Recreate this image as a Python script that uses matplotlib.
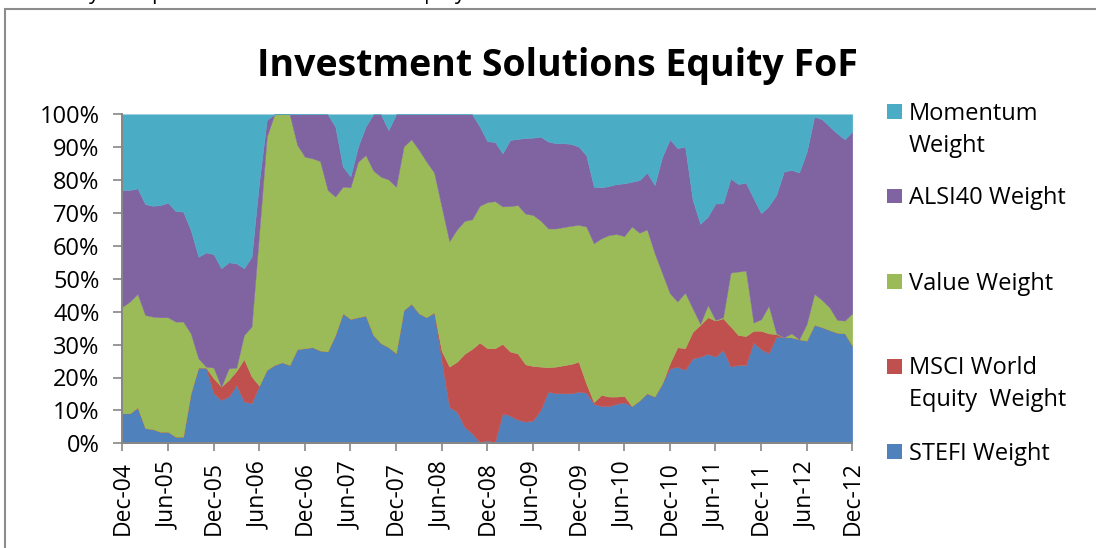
import numpy as np
import matplotlib
matplotlib.use("Agg")
import matplotlib.pyplot as plt
from matplotlib.patches import Rectangle

# ---------------- data (monthly, Dec-04 .. Dec-12), % weights ----------------
stefi = [9.1, 9.1, 10.9, 4.6, 4.3, 3.5, 3.5, 2.0, 2.0, 15.2, 23.0, 23.0, 15.2, 13.2, 14.2, 17.7,
         12.7, 12.2, 17.5, 22.3, 23.8, 24.6, 23.8, 28.6, 28.9, 29.2, 28.2, 27.9, 32.9, 39.5, 37.8,
         38.3, 38.8, 32.9, 30.4, 29.2, 27.4, 40.5, 42.4, 39.5, 38.3, 39.8, 25.0, 11.0, 9.6, 5.0,
         3.0, 0.3, 0.9, 0.3, 9.1, 8.4, 7.2, 6.6, 6.9, 10.1, 15.7, 15.2, 15.2, 15.2, 15.7, 15.4,
         12.0, 11.3, 11.3, 12.0, 12.4, 11.3, 13.0, 15.2, 14.2, 18.2, 22.7, 23.3, 22.3, 25.8, 26.3,
         27.2, 26.3, 28.4, 23.3, 23.8, 23.8, 30.6, 28.6, 27.4, 32.4, 32.2, 32.2, 31.6, 31.2, 36.0,
         35.3, 34.4, 33.6, 33.4, 29.6]
msci = [0, 0, 0, 0, 0, 0, 0, 0, 0, 0, 0, 0, 4.6, 4.0, 5.1, 4.3,
        12.9, 8.1, 0, 0, 0, 0, 0, 0, 0, 0, 0, 0, 0, 0, 0,
        0, 0, 0, 0, 0, 0, 0, 0, 0, 0, 0, 3.0, 12.3, 15.2, 22.2,
        25.7, 30.3, 28.0, 28.6, 21.1, 19.5, 20.1, 17.4, 16.6, 13.2, 7.4, 8.1, 8.5, 8.9, 9.1, 2.8,
        0.5, 3.4, 2.9, 2.2, 2.0, 0, 0, 0, 0, 0, 1.6, 5.9, 6.6, 8.1, 9.7,
        11.1, 11.0, 9.6, 12.2, 9.1, 8.8, 3.6, 5.6, 6.0, 0.8, 0, 0, 0, 0, 0,
        0, 0, 0, 0, 0]
value = [32.4, 34.0, 34.5, 34.4, 34.2, 34.8, 34.8, 35.0, 35.0, 18.2, 2.8, 0.3, 3.2, 0.0, 3.5, 1.0,
         7.3, 15.2, 46.5, 70.9, 76.2, 75.4, 76.2, 62.1, 58.2, 57.4, 57.6, 49.1, 42.1, 38.5, 40.0,
         47.3, 48.8, 50.0, 50.6, 51.0, 50.6, 49.7, 50.0, 49.7, 47.3, 42.5, 43.8, 38.1, 40.2, 40.4,
         39.4, 41.6, 44.4, 44.7, 41.8, 44.2, 45.1, 45.8, 45.9, 44.4, 42.2, 42.0, 42.0, 42.0, 41.6, 47.7,
         48.3, 47.6, 49.1, 49.4, 48.6, 54.6, 51.0, 49.8, 43.6, 33.5, 21.3, 13.9, 16.9, 7.1, 0.3,
         3.7, 0.2, 0.3, 16.4, 19.3, 19.9, 2.5, 3.5, 8.4, 0.2, 0.0, 1.2, 0.0, 5.1, 9.4,
         8.3, 6.9, 3.9, 3.9, 9.9]
alsi40 = [35.5, 33.9, 32.1, 33.7, 33.7, 34.1, 34.8, 33.6, 33.4, 31.4, 30.9, 34.7, 34.5, 36.0, 32.2, 31.7,
          20.3, 21.2, 15.6, 5.1, 0, 0, 0, 9.3, 12.9, 13.4, 14.2, 23.0, 21.3, 6.1, 3.3,
          4.6, 8.7, 17.1, 19.0, 15.0, 22.0, 9.8, 7.6, 10.8, 14.4, 17.7, 28.2, 38.6, 35.0, 32.4,
          31.9, 24.1, 18.5, 18.0, 16.1, 20.1, 20.1, 23.0, 23.5, 25.5, 26.4, 25.9, 25.5, 24.9, 23.8, 21.7,
          17.2, 15.5, 14.9, 15.2, 16.0, 13.6, 16.0, 17.3, 20.7, 35.4, 46.8, 46.6, 44.4, 33.0, 30.4,
          26.9, 35.4, 34.6, 28.6, 26.6, 26.7, 37.8, 32.2, 30.3, 42.1, 50.4, 49.7, 50.7, 52.3, 53.9,
          54.9, 55.0, 56.7, 55.1, 55.2]
momentum = [23.0, 23.0, 22.5, 27.3, 27.8, 27.6, 26.9, 29.4, 29.6, 35.2, 43.3, 42.0, 42.5, 46.8, 45.0, 45.3,
            46.8, 43.3, 20.4, 1.7, 0, 0, 0, 0, 0, 0, 0, 0, 3.7, 15.9, 18.9,
            9.8, 3.7, 0, 0, 4.8, 0, 0, 0, 0, 0, 0, 0, 0, 0, 0,
            0, 3.7, 8.2, 8.4, 11.9, 7.8, 7.5, 7.2, 7.1, 6.8, 8.3, 8.8, 8.8, 9.0, 9.8, 12.4,
            22.0, 22.2, 21.8, 21.2, 21.0, 20.5, 20.0, 17.7, 21.5, 12.9, 7.6, 10.3, 9.8, 26.0, 33.3,
            31.1, 27.1, 27.1, 19.5, 21.2, 20.8, 25.5, 30.1, 27.9, 24.5, 17.4, 16.9, 17.7, 11.4, 0.7,
            1.5, 3.7, 5.8, 7.6, 5.3]

tick_labels = ["Dec-04", "Jun-05", "Dec-05", "Jun-06", "Dec-06", "Jun-07", "Dec-07", "Jun-08",
               "Dec-08", "Jun-09", "Dec-09", "Jun-10", "Dec-10", "Jun-11", "Dec-11", "Jun-12", "Dec-12"]
series_names = ["STEFI Weight", "MSCI World Equity  Weight", "Value Weight", "ALSI40 Weight", "Momentum Weight"]
colors = ["#4F81BD", "#C0504D", "#9BBB59", "#8064A2", "#4BACC6"]

# ---------------- figure ----------------
W, H = 1096, 548
FONT = "Open Sans"
fig = plt.figure(figsize=(W / 100, H / 100), dpi=100)
fig.patch.set_facecolor("white")

def fx(px):
    return px / W

def fy(py):
    return 1 - py / H

# outer chart border (cropped on right / bottom)
fig.patches.append(Rectangle((fx(4.5), -0.1), 2.0, fy(9) + 0.1, transform=fig.transFigure,
                             fill=False, edgecolor="#8c8c8c", linewidth=1.5, zorder=0))
# cropped text line at very top (only descenders visible, as in the source)
fig.text(fx(70), fy(-1.5), "Style Map of Investment Solutions Equity FoF", fontsize=15,
         family=FONT, va="baseline", ha="left", color="black")

left, right, top, bottom = 122.3, 852.3, 114.3, 443.3
ax = fig.add_axes([fx(left), fy(bottom), fx(right - left), (bottom - top) / H])

x = np.arange(len(stefi))
ax.stackplot(x, stefi, msci, value, alsi40, momentum, colors=colors,
             edgecolor="face", linewidth=0.3, labels=series_names)

ax.set_xlim(0, len(stefi) - 1)
ax.set_ylim(0, 100)
ax.set_xticks(np.arange(0, len(stefi), 6))
ax.set_xticklabels(tick_labels, rotation=90, family=FONT, fontsize=16.5)
ax.set_yticks(np.arange(0, 101, 10))
ax.set_yticklabels([f"{v}%" for v in range(0, 101, 10)], family=FONT, fontsize=17)
ax.tick_params(axis="x", length=6, width=1.2, color="#868686", pad=7, direction="out")
ax.tick_params(axis="y", length=6.5, width=1.2, color="#868686", pad=10, direction="out")
for s in ["top", "right"]:
    ax.spines[s].set_visible(False)
for s in ["left", "bottom"]:
    ax.spines[s].set_color("#868686")
    ax.spines[s].set_linewidth(1.4)

# title
fig.text(fx(557), fy(76), "Investment Solutions Equity FoF", fontsize=27, fontweight="bold",
         family=FONT, ha="center", va="baseline")

# legend (manual, Excel-like spacing)
legend_rows = [
    (colors[4], ["Momentum", "Weight"], 119.5),
    (colors[3], ["ALSI40 Weight"], 204.0),
    (colors[2], ["Value Weight"], 289.5),
    (colors[1], ["MSCI World", "Equity  Weight"], 374.5),
    (colors[0], ["STEFI Weight"], 459.5),
]
for col, lines, base in legend_rows:
    fig.patches.append(Rectangle((fx(887), fy(base - 1)), fx(14.5), 14.5 / H,
                                 transform=fig.transFigure, facecolor=col, edgecolor="none"))
    for k, line in enumerate(lines):
        fig.text(fx(909), fy(base + 32 * k), line, fontsize=17, family=FONT,
                 ha="left", va="baseline")

fig.savefig("out.png", dpi=100)
